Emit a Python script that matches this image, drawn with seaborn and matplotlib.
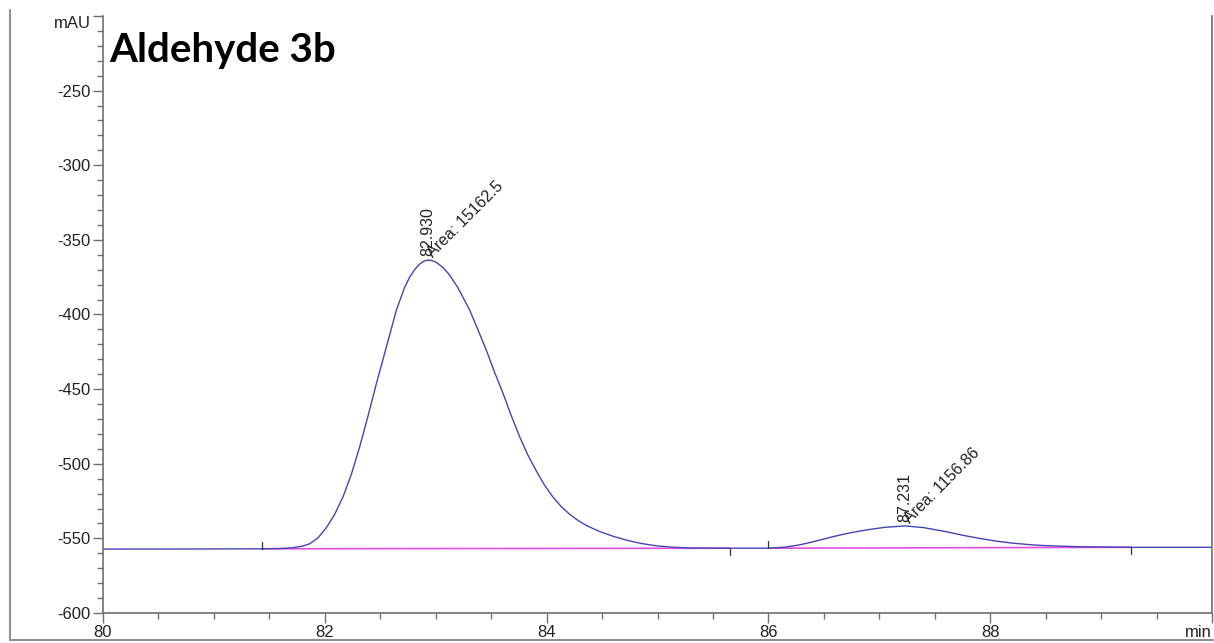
#!/usr/bin/env python3

import pandas as pd
import matplotlib.pyplot as plt
from matplotlib.lines import Line2D
from matplotlib.ticker import MultipleLocator
import seaborn as sns

# chromatogram trace (min, mAU)
time_min = [80.0, 81.0, 81.43, 81.6, 81.71, 81.8, 81.865, 81.94, 82.015, 82.09,
            82.165, 82.24, 82.315, 82.39, 82.466, 82.556, 82.646, 82.72, 82.766,
            82.81, 82.85, 82.89, 82.93, 82.97, 83.01, 83.07, 83.126, 83.2,
            83.306, 83.38, 83.456, 83.53, 83.607, 83.68, 83.757, 83.83, 83.907,
            83.98, 84.057, 84.13, 84.207, 84.28, 84.357, 84.477, 84.6, 84.72,
            84.85, 85.0, 85.15, 85.3, 85.65, 86.0, 86.15, 86.28, 86.43, 86.58,
            86.73, 86.88, 87.05, 87.231, 87.4, 87.6, 87.75, 87.9, 88.05, 88.2,
            88.35, 88.5, 88.8, 89.27, 90.0]
signal_mau = [-557.2, -557.1, -557.0, -556.8, -556.3, -555.2, -553.6, -549.6,
              -542.8, -533.8, -522.1, -507.0, -488.6, -468.0, -446.1, -421.6,
              -397.0, -381.8, -374.9, -370.0, -366.6, -364.4, -363.5, -363.9,
              -365.3, -368.8, -373.6, -382.0, -397.0, -410.0, -423.8, -438.5,
              -452.8, -467.5, -481.9, -494.0, -504.8, -514.2, -522.3, -528.6,
              -533.8, -537.8, -541.3, -545.4, -548.6, -551.2, -553.4, -555.1,
              -556.0, -556.5, -556.6, -556.6, -555.9, -554.4, -551.8, -548.9,
              -546.4, -544.4, -542.6, -541.7, -542.8, -545.5, -547.9, -550.0,
              -551.8, -553.2, -554.2, -554.9, -555.6, -556.0, -556.0]

# integration baselines (start, end) for each peak
base_time = [[81.43, 85.65], [86.0, 89.27]]
base_mau = [[-557.0, -556.6], [-556.6, -556.0]]
# peak start/end markers: +1 tick up, -1 tick down
marker_time = [81.43, 85.65, 86.0, 89.27]
marker_mau = [-557.0, -556.6, -556.6, -556.0]
marker_dir = [1, -1, 1, -1]

peak_rt = ['82.930', '87.231']
peak_area = ['Area: 15162.5', 'Area: 1156.86']
peak_time = [82.93, 87.231]
peak_top = [-363.5, -541.7]

x_ticks = [80, 82, 84, 86, 88, 90]
x_labels = ['80', '82', '84', '86', '88', 'min']
y_ticks = [-600, -550, -500, -450, -400, -350, -300, -250, -200]
y_labels = ['-600', '-550', '-500', '-450', '-400', '-350', '-300', '-250', 'mAU']


def main():
    sns.set_theme(style='white')
    plt.rcParams['font.family'] = ['Liberation Sans', 'DejaVu Sans']

    fig = plt.figure(figsize=(12.14, 6.43), dpi=100)
    ax = fig.add_axes([0.0848, 0.0467, 0.9136, 0.9284])

    trace = pd.DataFrame({'time': time_min, 'mAU': signal_mau})
    for bt, bm in zip(base_time, base_mau):
        sns.lineplot(x=bt, y=bm, color='#e050e0', lw=1.2, ax=ax)
    sns.lineplot(data=trace, x='time', y='mAU', sort=False, color='#4644b4',
                 lw=1.0, ax=ax)
    for t, m, d in zip(marker_time, marker_mau, marker_dir):
        ax.plot([t, t], [m, m + d * 4.5], color='#333333', lw=0.9)

    for t, top, rt, area in zip(peak_time, peak_top, peak_rt, peak_area):
        ax.annotate(rt, (t, top), xytext=(0, 3), textcoords='offset points',
                    rotation=90, ha='center', va='bottom', fontsize=11.5,
                    color='#222222')
        ax.annotate(area, (t, top), xytext=(5, 0), textcoords='offset points',
                    rotation=45, rotation_mode='anchor', ha='left', va='bottom',
                    fontsize=11.5, color='#222222')

    ax.set_xlim(80, 90)
    ax.set_ylim(-600, -200)
    ax.set_xticks(x_ticks)
    ax.set_xticklabels(x_labels)
    ax.set_yticks(y_ticks)
    ax.set_yticklabels(y_labels)
    ax.xaxis.set_minor_locator(MultipleLocator(0.5))
    ax.yaxis.set_minor_locator(MultipleLocator(10))
    ax.tick_params(which='major', direction='out', length=7, width=1,
                   color='#707070', labelsize=12, labelcolor='#222222', pad=2,
                   left=True, bottom=True)
    ax.tick_params(which='minor', direction='out', length=4, width=1,
                   color='#707070', left=True, bottom=True)
    ax.get_xticklabels()[-1].set_horizontalalignment('right')
    ax.get_yticklabels()[-1].set_verticalalignment('top')
    ax.set_xlabel('')
    ax.set_ylabel('')
    for side in ['left', 'bottom', 'right']:
        ax.spines[side].set_color('#707070')
        ax.spines[side].set_linewidth(1.2)
    ax.spines['top'].set_visible(False)

    ax.text(0.006, 0.973, 'Aldehyde 3b', transform=ax.transAxes, ha='left',
            va='top', fontsize=29, fontweight='bold', family=['Lato', 'DejaVu Sans'],
            color='black')

    # outer frame of the original screenshot
    fig.add_artist(Line2D([10 / 1214, 10 / 1214], [3 / 643, 1 - 10 / 643],
                          color='#909090', lw=1.5))
    fig.add_artist(Line2D([10 / 1214, 1213 / 1214], [3 / 643, 3 / 643],
                          color='#909090', lw=1.5))

    plt.savefig('out.png', dpi=100)


if __name__ == '__main__':
    main()
